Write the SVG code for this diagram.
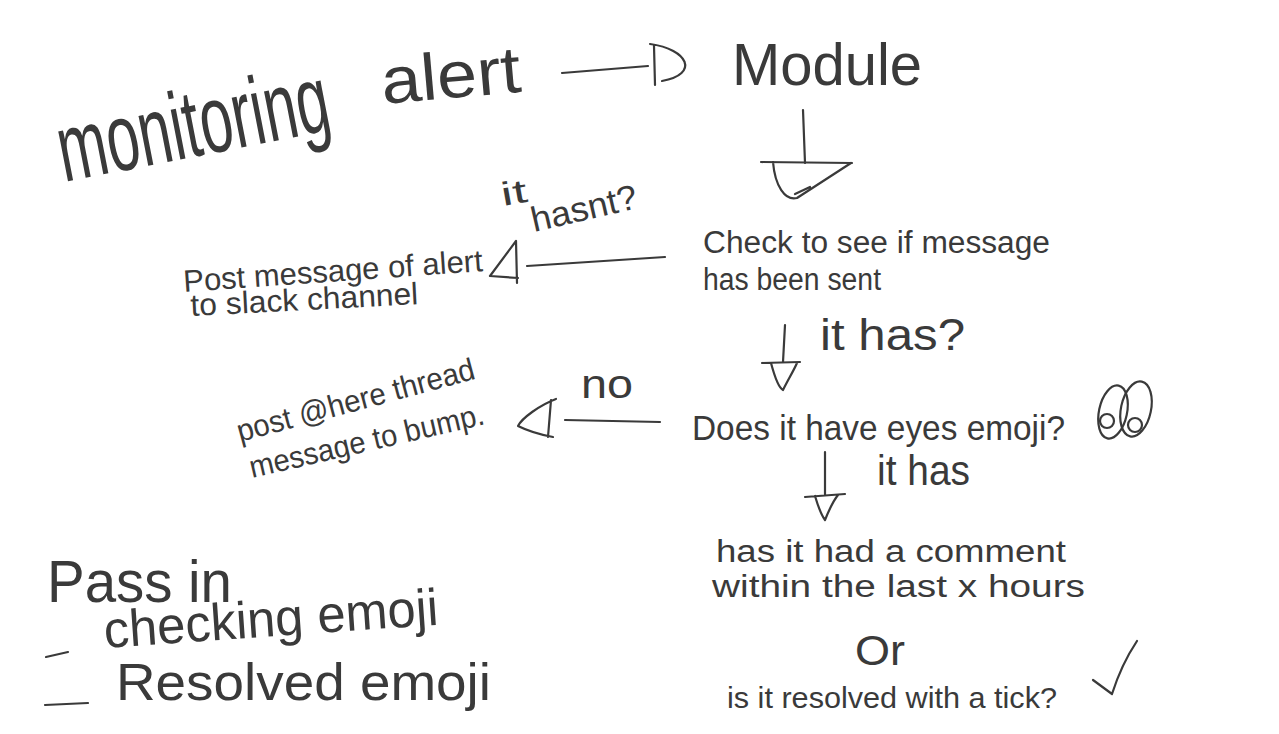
<svg xmlns="http://www.w3.org/2000/svg" width="1279" height="734" viewBox="0 0 1279 734">
<style>
text{font-family:"Liberation Sans","DejaVu Sans",sans-serif;fill:#3a3a3a}
.s{fill:none;stroke:#3a3a3a;stroke-width:2.2;stroke-linecap:round;stroke-linejoin:round}
</style>
<rect width="1279" height="734" fill="#ffffff"/>
<g id="monitoring-alert">
<text x="64" y="182" font-size="96" transform="rotate(-11 64 182)" textLength="275" lengthAdjust="spacingAndGlyphs">monitoring</text>
<text x="383" y="104" font-size="66" transform="rotate(-5 383 104)" textLength="140" lengthAdjust="spacingAndGlyphs">alert</text>
</g>
<g id="module">
<text x="732" y="85" font-size="60" textLength="190" lengthAdjust="spacingAndGlyphs">Module</text>
</g>
<g id="check-sent">
<text x="703" y="253" font-size="31" textLength="347" lengthAdjust="spacingAndGlyphs">Check to see if message</text>
<text x="703" y="290" font-size="31" textLength="178" lengthAdjust="spacingAndGlyphs">has been sent</text>
</g>
<g id="post-alert">
<text x="184" y="292" font-size="31" transform="rotate(-4 184 292)" textLength="300" lengthAdjust="spacingAndGlyphs">Post message of alert</text>
<text x="191" y="316" font-size="31" transform="rotate(-3 191 316)" textLength="228" lengthAdjust="spacingAndGlyphs">to slack channel</text>
</g>
<g id="eyes-check">
<text x="692" y="440" font-size="35" textLength="373" lengthAdjust="spacingAndGlyphs">Does it have eyes emoji?</text>
<g class="s" stroke-width="2">
<ellipse cx="1113" cy="412" rx="14" ry="27" transform="rotate(12 1113 412)"/>
<ellipse cx="1136" cy="409" rx="15" ry="28" transform="rotate(12 1136 409)"/>
<circle cx="1107" cy="421" r="7"/>
<circle cx="1135" cy="425" r="7"/>
</g>
</g>
<g id="post-here">
<text x="240" y="442" font-size="31" transform="rotate(-15 240 442)" textLength="245" lengthAdjust="spacingAndGlyphs">post @here thread</text>
<text x="252" y="478" font-size="31" transform="rotate(-13 252 478)" textLength="240" lengthAdjust="spacingAndGlyphs">message to bump.</text>
</g>
<g id="comment-check">
<text x="716" y="562" font-size="31" textLength="350" lengthAdjust="spacingAndGlyphs">has it had a comment</text>
<text x="712" y="597" font-size="31" textLength="373" lengthAdjust="spacingAndGlyphs">within the last x hours</text>
<text x="855" y="665" font-size="42" textLength="50" lengthAdjust="spacingAndGlyphs">Or</text>
<text x="727" y="708" font-size="29" textLength="330" lengthAdjust="spacingAndGlyphs">is it resolved with a tick?</text>
<path class="s" d="M1093,680 L1112,694 C1119,672 1127,656 1137,641"/>
</g>
<g id="pass-in">
<text x="47" y="602" font-size="60" textLength="185" lengthAdjust="spacingAndGlyphs">Pass in</text>
<text x="105" y="648" font-size="52" transform="rotate(-4 105 648)" textLength="335" lengthAdjust="spacingAndGlyphs">checking emoji</text>
<text x="116" y="700" font-size="52" textLength="375" lengthAdjust="spacingAndGlyphs">Resolved emoji</text>
<path class="s" d="M46,657 L68,652"/>
<path class="s" d="M45,705 L88,703"/>
</g>
<g id="connectors">
<g class="s">
<path d="M562,73 L648,66"/>
<path d="M654,46 L655,85 M650,44 C688,49 700,74 662,81"/>
<path d="M803,110 L805,163"/>
<path d="M761,162 L852,163 M773,162 C775,186 785,201 797,198 L851,163 M795,194 L810,187"/>
<path d="M527,266 L665,257"/>
<path d="M516,241 L490,276 L518,278 M516,241 L517,283"/>
<path d="M785,325 L783,362 M762,363 L800,362 M771,363 C775,378 779,388 783,390 C788,380 794,370 797,363"/>
<path d="M565,420 L660,422"/>
<path d="M556,399 C540,405 522,418 518,426 C528,431 542,435 553,437 M551,400 L548,437"/>
<path d="M825,452 L825,495 M805,497 L845,494 M815,496 C818,506 822,516 825,520 C829,510 834,500 838,495"/>
</g>
<text x="503" y="206" font-size="33" transform="rotate(-10 503 206)" textLength="26" lengthAdjust="spacingAndGlyphs">it</text>
<text x="534" y="232" font-size="35" transform="rotate(-13 534 232)" textLength="108" lengthAdjust="spacingAndGlyphs">hasnt?</text>
<text x="820" y="350" font-size="44" textLength="145" lengthAdjust="spacingAndGlyphs">it has?</text>
<text x="581" y="398" font-size="40" textLength="52" lengthAdjust="spacingAndGlyphs">no</text>
<text x="877" y="485" font-size="42" textLength="93" lengthAdjust="spacingAndGlyphs">it has</text>
</g>
</svg>
